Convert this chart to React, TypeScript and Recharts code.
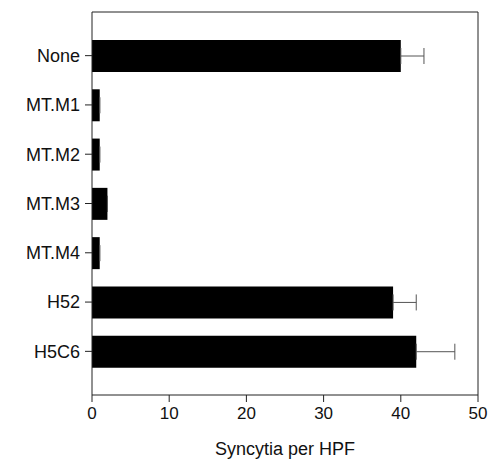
import { BarChart, Bar, XAxis, YAxis, ErrorBar } from "recharts";

const categories = ["None", "MT.M1", "MT.M2", "MT.M3", "MT.M4", "H52", "H5C6"];
const syncytia = [40, 1, 1, 2, 1, 39, 42];
const syncytiaErr = [3, 0, 0, 0, 0, 3, 5];
const xTicks = [0, 10, 20, 30, 40, 50];

// error bars only show on the upper side in the figure
const data = categories.map((name, i) => ({
  name,
  value: syncytia[i],
  err: [0, syncytiaErr[i]],
}));

const font = "Liberation Sans, Arial, sans-serif";

export default function App() {
  return (
    <div style={{ position: "absolute", left: 0, top: 0, background: "#fff" }}>
      <BarChart
        width={488}
        height={459}
        data={data}
        layout="vertical"
        margin={{ top: 11, right: 9, bottom: 0, left: 0 }}
      >
        <XAxis
          type="number"
          domain={[0, 50]}
          ticks={xTicks}
          stroke="#222"
          tickSize={7}
          tickMargin={5}
          height={64}
          tick={{ fill: "#111", fontSize: 17, fontFamily: font }}
          label={{
            value: "Syncytia per HPF",
            position: "insideBottom",
            offset: 4,
            fill: "#111",
            fontSize: 18,
            fontFamily: font,
          }}
        />
        <XAxis
          xAxisId="top"
          orientation="top"
          type="number"
          domain={[0, 50]}
          stroke="#222"
          tick={false}
          tickLine={false}
          height={1}
        />
        <YAxis
          type="category"
          dataKey="name"
          width={92}
          stroke="#222"
          tickSize={7}
          tickMargin={5}
          padding={{ top: 19, bottom: 19 }}
          tick={{ fill: "#111", fontSize: 18, fontFamily: font }}
        />
        <YAxis
          yAxisId="right"
          orientation="right"
          type="category"
          dataKey="name"
          stroke="#222"
          tick={false}
          tickLine={false}
          width={1}
          padding={{ top: 19, bottom: 19 }}
        />
        <Bar dataKey="value" fill="#000" barSize={32} isAnimationActive={false}>
          <ErrorBar dataKey="err" direction="x" width={8} stroke="#555" strokeWidth={1} />
        </Bar>
      </BarChart>
    </div>
  );
}
